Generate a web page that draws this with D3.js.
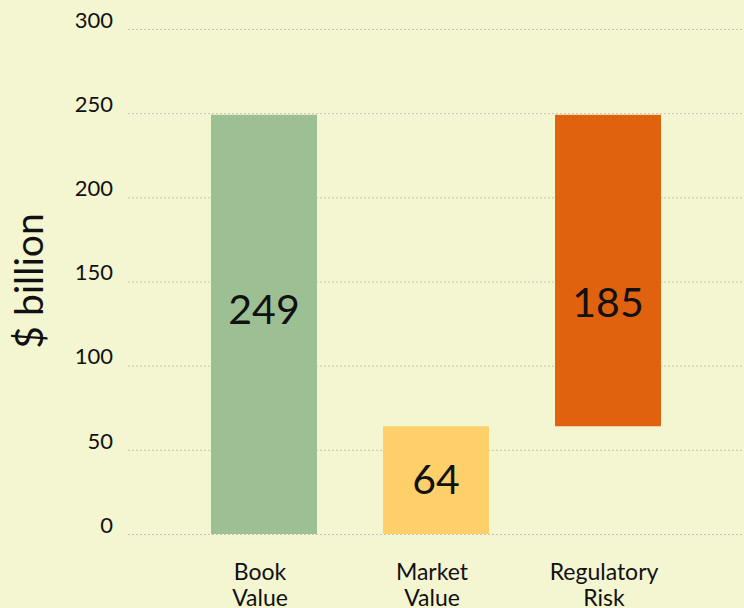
<!DOCTYPE html>
<html>
<head>
<meta charset="utf-8">
<script src="https://cdn.jsdelivr.net/npm/d3@7"></script>
<style>
  body { margin: 0; background: #f4f5d1; }
  svg { display: block; }
  text { font-family: Lato, "Noto Sans", sans-serif; fill: #111; }
</style>
</head>
<body>
<div id="chart"></div>
<script>
// data
const categories = ["Book Value", "Market Value", "Regulatory Risk"];
const labelLines = [["Book", "Value"], ["Market", "Value"], ["Regulatory", "Risk"]];
const barStart = [0, 0, 64];
const barEnd = [249, 64, 249];
const barValue = [249, 64, 185];
const labelAt = [134, 33, 138]; // where the number sits, in $ billion
const colors = ["#9dbf94", "#fed06a", "#e0620e"];
const yTicks = [0, 50, 100, 150, 200, 250, 300];

const width = 744, height = 608;

const svg = d3.select("#chart").append("svg")
    .attr("width", width)
    .attr("height", height);

svg.append("rect")
    .attr("width", width).attr("height", height)
    .attr("fill", "#f4f5d1");

const y = d3.scaleLinear().domain([0, 300]).range([534, 29]);
const x = d3.scaleBand()
    .domain(categories)
    .range([178, 694])
    .paddingInner(0.384)
    .paddingOuter(0.192);

// grid lines
svg.append("g").selectAll("line")
    .data(yTicks)
    .join("line")
    .attr("x1", 128).attr("x2", width)
    .attr("y1", d => y(d) + 0.5).attr("y2", d => y(d) + 0.5)
    .attr("stroke", "#c4c4b4")
    .attr("stroke-width", 1)
    .attr("stroke-dasharray", "2,2");

// y axis (labels only)
const yAxis = svg.append("g")
    .attr("transform", "translate(113,0)")
    .call(d3.axisLeft(y).tickValues(yTicks).tickSize(0).tickPadding(0));
yAxis.select(".domain").remove();
yAxis.selectAll("text")
    .attr("font-size", "22px")
    .attr("dy", "-0.08em")
    .style("font-family", "Lato, 'Noto Sans', sans-serif")
    .attr("fill", "#111");

// bars
const idx = d3.range(categories.length);
svg.append("g").selectAll("rect")
    .data(idx)
    .join("rect")
    .attr("x", i => x(categories[i]))
    .attr("width", x.bandwidth())
    .attr("y", i => y(barEnd[i]))
    .attr("height", i => y(barStart[i]) - y(barEnd[i]))
    .attr("fill", i => colors[i]);

// value labels
svg.append("g").selectAll("text")
    .data(idx)
    .join("text")
    .attr("x", i => x(categories[i]) + x.bandwidth() / 2)
    .attr("y", i => y(labelAt[i]))
    .attr("text-anchor", "middle")
    .attr("dominant-baseline", "central")
    .attr("font-size", "41px")
    .text(i => barValue[i]);

// category labels
const cat = svg.append("g").selectAll("text")
    .data(idx)
    .join("text")
    .attr("text-anchor", "middle")
    .attr("font-size", "23px")
    .attr("transform", i => "translate(" + (x(categories[i]) + x.bandwidth() / 2 - 4) + ",580)");
cat.selectAll("tspan")
    .data(i => labelLines[i])
    .join("tspan")
    .attr("x", 0)
    .attr("dy", (d, j) => j === 0 ? 0 : 26)
    .text(d => d);

// y title
svg.append("text")
    .attr("transform", "translate(43,281) rotate(-90)")
    .attr("text-anchor", "middle")
    .attr("font-size", "39px")
    .text("$ billion");
</script>
</body>
</html>
